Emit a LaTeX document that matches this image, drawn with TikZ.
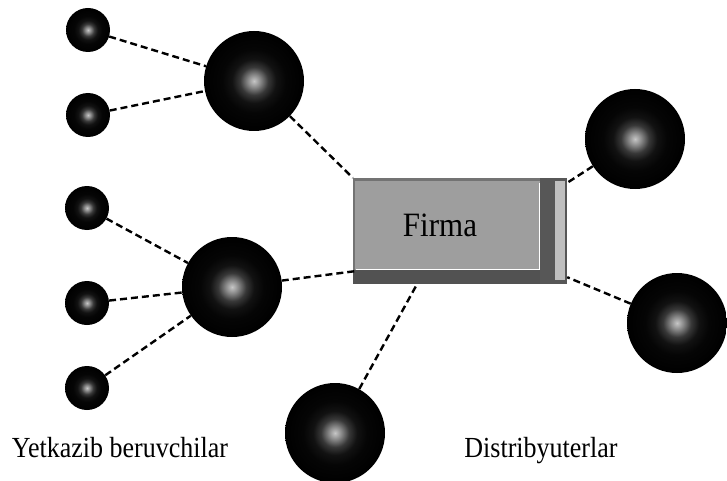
\documentclass[tikz,border=0pt]{standalone}
\usepackage{fontspec}
\setmainfont{Liberation Serif}
\pgfdeclareradialshading{orb}{\pgfpoint{0bp}{0bp}}{color(0bp)=(black!22); color(3bp)=(black!45); color(7bp)=(black!78); color(11bp)=(black!93); color(16bp)=(black!98); color(25bp)=(black); color(50bp)=(black)}
\begin{document}
\begin{tikzpicture}[x=1pt,y=-1pt,
  small/.style={circle,inner sep=0pt,minimum size=44pt,shading=orb},
  big/.style={circle,inner sep=0pt,minimum size=100pt,shading=orb},
  conn/.style={draw=black,line width=2.4pt,dash pattern=on 7pt off 4pt},
  lbl/.style={font=\fontsize{26}{30}\selectfont,anchor=base,inner sep=0pt}]
\useasboundingbox (0,0) rectangle (727,481);
\fill[white] (0,0) rectangle (727,481);
% Firma box
\node[minimum width=214pt,minimum height=106pt,inner sep=0pt] (firma) at (460,231) {};
\fill[black!55] (firma.north west) rectangle (firma.south east);
\fill[black!68] ([shift={(0,-14)}]firma.south west) rectangle (firma.south east);
\fill[black!66] ([shift={(-27,0)}]firma.north east) rectangle (firma.south east);
\fill[black!25] ([shift={(-12,3)}]firma.north east) rectangle ([shift={(-2,-4)}]firma.south east);
\fill[black!38] ([shift={(2,3)}]firma.north west) rectangle ([shift={(-27,-14)}]firma.south east);
\draw[white,line width=1.2pt] ([shift={(3,-15)}]firma.south west) -- ([shift={(-28,-15)}]firma.south east) -- ([shift={(-28,5)}]firma.north east);
\node[font=\fontsize{31}{34}\selectfont,anchor=base,inner sep=0pt] (ftext) at (440,236) {\scalebox{1}[1.1]{Firma}};
% spheres
\node[small] (s1) at (88,30) {};
\node[small] (s2) at (88,115) {};
\node[small] (s3) at (87,208) {};
\node[small] (s4) at (87,303) {};
\node[small] (s5) at (87,388) {};
\node[big] (b1) at (254,81) {};
\node[big] (b2) at (232,287) {};
\node[big] (b3) at (335,433) {};
\node[big] (r1) at (635,139) {};
\node[big] (r2) at (677,323) {};
% anchor points on the box
\coordinate (fa) at (firma.north west);
\coordinate (fb) at ([shift={(2,-13)}]firma.south west);
\coordinate (fc) at ([shift={(-43,0)}]firma.south);
\coordinate (fd) at ([shift={(0,5)}]firma.north east);
\coordinate (fe) at ([shift={(0,-7)}]firma.south east);
% connectors
\draw[conn] (s1) -- (b1);
\draw[conn] (s2) -- (b1);
\draw[conn] (s3) -- (b2);
\draw[conn] (s4) -- (b2);
\draw[conn] (s5) -- (b2);
\draw[conn] (b1) -- (fa);
\draw[conn] (b2) -- (fb);
\draw[conn] (b3) -- (fc);
\draw[conn] (r1) -- (fd);
\draw[conn] (r2) -- (fe);
% labels
\node[lbl] (l1) at (120,457) {\scalebox{1}[1.12]{Yetkazib beruvchilar}};
\node[lbl] (l2) at (541,457) {\scalebox{1}[1.12]{Distribyuterlar}};
\end{tikzpicture}
\end{document}
